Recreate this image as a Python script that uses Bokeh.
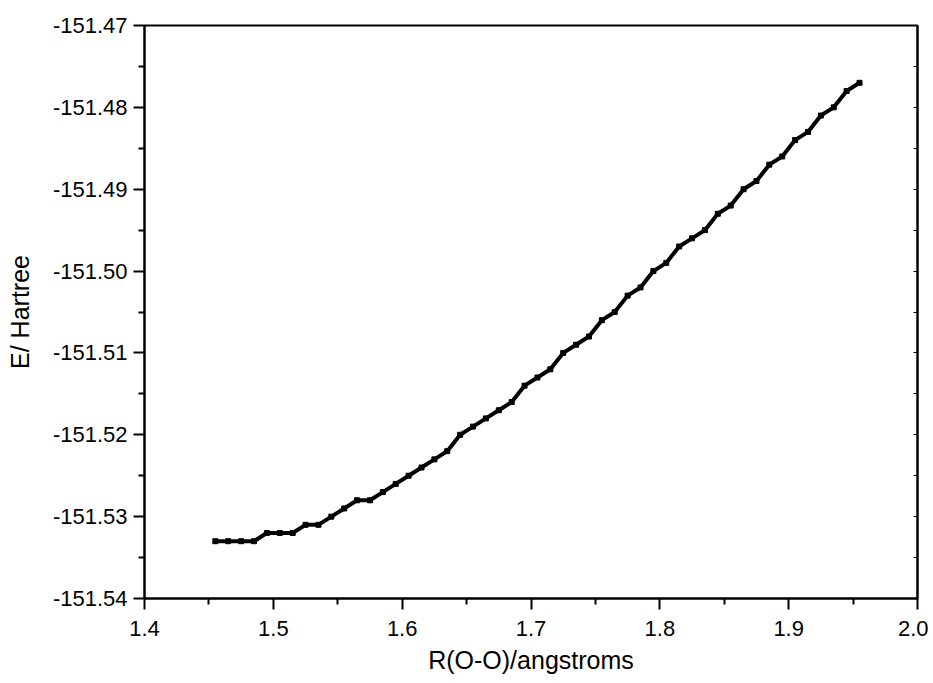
from bokeh.plotting import figure
from bokeh.models import LinearAxis, FixedTicker, NumeralTickFormatter, Range1d, CustomJSTickFormatter
from bokeh.embed import file_html
from bokeh.resources import INLINE

r_oo = [1.455, 1.465, 1.475, 1.485, 1.495, 1.505, 1.515, 1.525, 1.535, 1.545,
        1.555, 1.565, 1.575, 1.585, 1.595, 1.605, 1.615, 1.625, 1.635, 1.645,
        1.655, 1.665, 1.675, 1.685, 1.695, 1.705, 1.715, 1.725, 1.735, 1.745,
        1.755, 1.765, 1.775, 1.785, 1.795, 1.805, 1.815, 1.825, 1.835, 1.845,
        1.855, 1.865, 1.875, 1.885, 1.895, 1.905, 1.915, 1.925, 1.935, 1.945,
        1.955]
energy = [-151.533, -151.533, -151.533, -151.533, -151.532, -151.532, -151.532, -151.531, -151.531, -151.530,
          -151.529, -151.528, -151.528, -151.527, -151.526, -151.525, -151.524, -151.523, -151.522, -151.520,
          -151.519, -151.518, -151.517, -151.516, -151.514, -151.513, -151.512, -151.510, -151.509, -151.508,
          -151.506, -151.505, -151.503, -151.502, -151.500, -151.499, -151.497, -151.496, -151.495, -151.493,
          -151.492, -151.490, -151.489, -151.487, -151.486, -151.484, -151.483, -151.481, -151.480, -151.478,
          -151.477]

x_major = [1.4, 1.5, 1.6, 1.7, 1.8, 1.9, 2.0]
x_minor = [1.45, 1.55, 1.65, 1.75, 1.85, 1.95]
y_major = [-151.54, -151.53, -151.52, -151.51, -151.50, -151.49, -151.48, -151.47]
y_minor = [-151.535, -151.525, -151.515, -151.505, -151.495, -151.485, -151.475]

FONT = "Liberation Sans"

p = figure(width=928, height=680, output_backend="svg", toolbar_location=None,
           x_range=Range1d(1.4, 2.0), y_range=Range1d(-151.54, -151.47),
           min_border_left=144, min_border_right=11, min_border_top=25, min_border_bottom=82)
p.grid.visible = False
p.outline_line_color = "black"
p.outline_line_width = 2
p.background_fill_color = "white"

p.line(r_oo, energy, line_color="black", line_width=4)
p.scatter(r_oo, energy, marker="square", size=5, color="black")

def style_main(ax, major, minor, fmt):
    ax.ticker = FixedTicker(ticks=major, minor_ticks=minor)
    ax.formatter = NumeralTickFormatter(format=fmt)
    ax.axis_line_width = 2
    ax.axis_line_color = "black"
    ax.major_tick_line_width = 2
    ax.minor_tick_line_width = 2
    ax.major_tick_line_color = "black"
    ax.minor_tick_line_color = "black"
    ax.major_tick_in = 0
    ax.minor_tick_in = 0
    ax.major_tick_out = 11
    ax.minor_tick_out = 6
    ax.major_label_text_font = FONT
    ax.major_label_text_font_size = "22px"
    ax.major_label_text_color = "black"
    ax.axis_label_text_font = FONT
    ax.axis_label_text_font_size = "25px"
    ax.axis_label_text_font_style = "normal"
    ax.axis_label_text_color = "black"

xa = p.xaxis[0]
style_main(xa, x_major, x_minor, "0.0")
xa.axis_label = "R(O-O)/angstroms"
xa.major_label_standoff = 11
xa.axis_label_standoff = 7

ya = p.yaxis[0]
style_main(ya, y_major, y_minor, "0.00")
ya.axis_label = "E/ Hartree"
ya.major_label_standoff = 6
ya.axis_label_standoff = 16

right = LinearAxis(ticker=FixedTicker(ticks=y_major, minor_ticks=y_minor),
                   formatter=CustomJSTickFormatter(code="return ''"))
right.axis_line_width = 2
right.major_tick_in = 4
right.minor_tick_in = 4
right.major_tick_out = 0
right.minor_tick_out = 0
right.major_tick_line_width = 1
right.minor_tick_line_width = 1
right.major_label_text_color = None
right.major_label_standoff = 0
p.add_layout(right, "right")

open("out.html", "w").write(file_html(p, INLINE))
